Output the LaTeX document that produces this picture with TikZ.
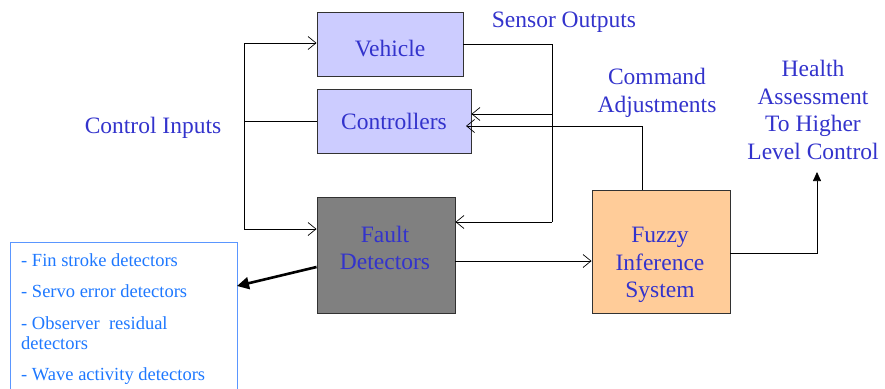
\documentclass[tikz,border=0pt]{standalone}
\usepackage{fontspec}
\setmainfont{Liberation Serif}
\usetikzlibrary{arrows.meta,calc}
\definecolor{tblue}{RGB}{51,51,204}
\definecolor{lblue}{RGB}{30,120,255}
\definecolor{lborder}{RGB}{90,150,255}
\definecolor{boxblue}{RGB}{204,204,255}
\definecolor{boxgray}{RGB}{128,128,128}
\definecolor{boxorange}{RGB}{255,204,153}
\definecolor{edge}{RGB}{50,50,50}
\tikzset{
  blk/.style={draw=edge, line width=0.9pt, inner sep=0pt},
  txt/.style={text=tblue, font=\fontsize{23.5}{27.5}\selectfont, align=center, inner sep=0pt},
  ltxt/.style={text=lblue, font=\fontsize{18.5}{22}\selectfont, anchor=west, inner sep=0pt},
  con/.style={draw=black, line width=0.7pt},
  arr/.style={con, -{Straight Barb[length=8pt,width=13pt,line width=0.7pt]}},
  harr/.style={con, -{Triangle[length=9pt,width=8pt]}},
  thick arr/.style={draw=black, line width=2.6pt, -{Triangle[length=12pt,width=12pt]}}
}
\begin{document}
\begin{tikzpicture}[x=1pt,y=-1pt]
\useasboundingbox (0,0) rectangle (885,388);
% boxes
\node[blk, fill=boxblue, minimum width=146pt, minimum height=64pt] (veh) at (390,44) {};
\node[blk, fill=boxblue, minimum width=154pt, minimum height=64pt] (ctrl) at (394,121) {};
\node[blk, fill=boxgray, minimum width=138pt, minimum height=116pt] (fault) at (386,255) {};
\node[blk, fill=boxorange, minimum width=138pt, minimum height=123pt] (fz) at (661,251.5) {};
% box texts
\node[txt] (vehT) at (390,49) {Vehicle};
\node[txt] (ctrlT) at (394,121) {Controllers};
\node[txt] (faultT) at (385,248) {Fault\\Detectors};
\node[txt] (fzT) at (660,265) {Fuzzy\\Inference\\System};
% free labels
\node[txt] (sens) at (564,22) {Sensor Outputs};
\node[txt] (cin) at (153,128) {Control Inputs};
\node[txt] (cadj) at (657,93) {Command\\Adjustments};
\node[txt] (health) at (813,110) {Health\\Assessment\\To Higher\\Level Control};
% list box
\coordinate (lb1) at (10,390);
\coordinate (lb2) at (10,242);
\coordinate (lb3) at (237,242);
\coordinate (lb4) at (237,390);
\draw[draw=lborder, line width=0.9pt] (lb1) -- (lb2) -- (lb3) -- (lb4);
\node[ltxt] (l1) at (21,260) {- Fin stroke detectors};
\node[ltxt] (l2) at (21,291) {- Servo error detectors};
\node[ltxt] (l3) at (21,323) {- Observer\ \ residual};
\node[ltxt] (l3b) at (21,343) {detectors};
\node[ltxt] (l4) at (21,376) {- Wave activity detectors};
% left bus
\coordinate (bus) at (244,121);
\coordinate (busT) at (244,43);
\coordinate (busB) at (244,229);
\draw[con] (ctrl.west) -- (bus);
\draw[arr] (bus) -- (busT) -- (veh.west |- busT);
\draw[arr] (bus) -- (busB) -- (fault.west |- busB);
% sensor outputs
\coordinate (s0) at (552,44);
\coordinate (s1) at (552,114);
\coordinate (s2) at (552,222);
\draw[con] (veh.east) -- (s0) -- (s2);
\draw[arr] (s1) -- (ctrl.east |- s1);
\draw[arr] (s2) -- (fault.east |- s2);
% command adjustments
\coordinate (c1) at (642,126);
\coordinate (c2) at (466,126);
\draw[arr] (fz.north -| c1) -- (c1) -- (c2);
% fault to fuzzy
\coordinate (fy) at (0,261);
\draw[arr] (fault.east |- fy) -- (fz.west |- fy);
% health output
\coordinate (hy) at (0,253);
\coordinate (h1) at (817,253);
\coordinate (h2) at (817,172);
\draw[harr] (fz.east |- hy) -- (h1) -- (h2);
% thick arrow to list
\coordinate (ty1) at (0,267);
\coordinate (ty2) at (0,286);
\draw[thick arr] (fault.west |- ty1) -- (lb3 |- ty2);
\end{tikzpicture}
\end{document}
